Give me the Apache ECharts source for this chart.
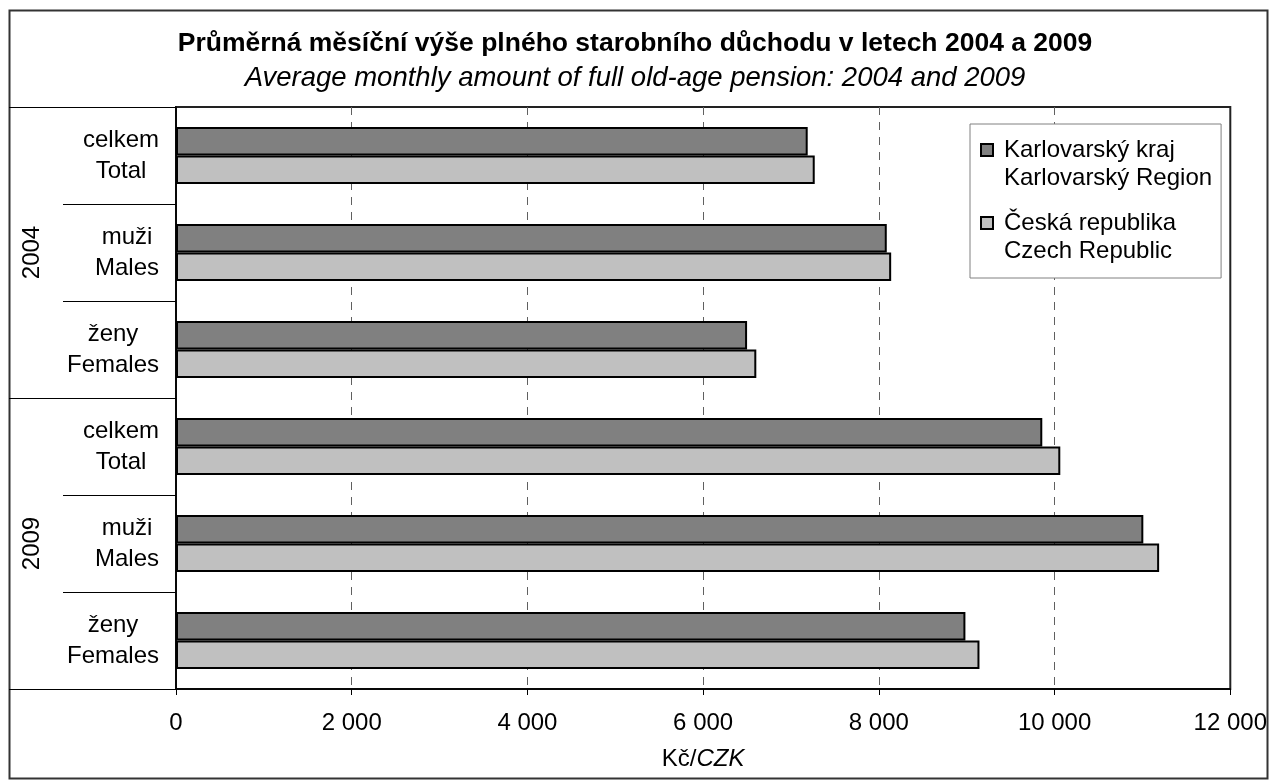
<!DOCTYPE html>
<html>
<head>
<meta charset="utf-8">
<script src="https://cdn.jsdelivr.net/npm/echarts@6/dist/echarts.min.js"></script>
<style>
  html, body { margin: 0; padding: 0; background: #fff; }
  #chart { width: 1270px; height: 780px; }
</style>
</head>
<body>
<div id="chart"></div>
<script>
// data (Kč / CZK)
const years = ['2004', '2009']
const groupsCs = ['celkem', 'muži', 'ženy']
const groupsEn = ['Total', 'Males', 'Females']
const karlovarsky = [7190, 8090, 6500, 9860, 11010, 8985]
const ceskaRepublika = [7270, 8140, 6605, 10065, 11190, 9145]
const xTicks = { min: 0, max: 12000, interval: 2000 }

const categories = []
years.forEach(y => {
  groupsCs.forEach((g, i) => {
    categories.push(y + '|' + g + '|' + groupsEn[i])
  })
})

const font = 'Liberation Sans, Arial, sans-serif'
const chart = echarts.init(document.getElementById('chart'))

chart.setOption({
  animation: false,
  backgroundColor: '#fff',
  textStyle: { fontFamily: font, color: '#000' },
  title: {
    text: 'Průměrná měsíční výše plného starobního důchodu v letech 2004 a 2009',
    subtext: 'Average monthly amount of full old-age pension: 2004 and 2009',
    left: 'center',
    top: 25,
    itemGap: 8,
    textStyle: { fontFamily: font, fontSize: 26.5, fontWeight: 'bold', color: '#000' },
    subtextStyle: { fontFamily: font, fontSize: 27.5, fontStyle: 'italic', color: '#000' }
  },
  graphic: [{
    type: 'rect',
    shape: { x: 9.5, y: 10.5, width: 1258, height: 768 },
    style: { fill: null, stroke: '#333', lineWidth: 2 },
    silent: true
  }],
  legend: {
    orient: 'vertical',
    left: 970,
    top: 124,
    padding: [11, 9, 12, 10],
    itemGap: 15,
    itemWidth: 18,
    itemHeight: 56,
    icon: 'path://M0,0M0,8h12v12h-12zM18,56',
    backgroundColor: '#fff',
    borderColor: '#808080',
    borderWidth: 1,
    textStyle: { fontFamily: font, fontSize: 24, lineHeight: 28, color: '#000' },
    data: ['Karlovarský kraj\nKarlovarský Region', 'Česká republika\nCzech Republic']
  },
  grid: {
    left: 176,
    top: 107,
    right: 39,
    bottom: 91,
    show: true,
    borderColor: '#222',
    borderWidth: 2
  },
  xAxis: {
    type: 'value',
    min: xTicks.min,
    max: xTicks.max,
    interval: xTicks.interval,
    name: 'Kč/{i|CZK}',
    nameLocation: 'middle',
    nameGap: 58,
    nameTextStyle: {
      fontFamily: font, fontSize: 24, color: '#000',
      rich: { i: { fontFamily: font, fontSize: 24, fontStyle: 'italic', color: '#000' } }
    },
    axisLine: { show: true, lineStyle: { color: '#000', width: 1.5 } },
    axisTick: { show: true, length: 6, lineStyle: { color: '#000' } },
    axisLabel: {
      fontFamily: font,
      fontSize: 24,
      color: '#000',
      margin: 22,
      formatter: v => String(v).replace(/\B(?=(\d{3})+(?!\d))/g, ' ')
    },
    splitLine: {
      show: true,
      showMinLine: false,
      showMaxLine: false,
      lineStyle: { color: '#606060', type: [8, 7], width: 1 }
    }
  },
  yAxis: [{
    type: 'category',
    inverse: true,
    data: categories,
    axisLine: { show: true, lineStyle: { color: '#000', width: 1.5 } },
    axisTick: { show: true, length: 113, interval: 0, lineStyle: { color: '#000' } },
    axisLabel: {
      interval: 0,
      margin: 17,
      formatter: v => {
        const p = v.split('|')
        return '{c|' + p[1] + '}\n{c|' + p[2] + '}'
      },
      rich: { c: { align: 'center', fontFamily: font, fontSize: 24, lineHeight: 31, color: '#000' } }
    }
  }, {
    type: 'category',
    inverse: true,
    position: 'left',
    data: years,
    axisLine: { show: false },
    axisTick: { show: true, length: 167, lineStyle: { color: '#000' } },
    axisLabel: {
      rotate: 90,
      margin: 132,
      fontFamily: font,
      fontSize: 24,
      color: '#000'
    }
  }],
  series: [{
    name: 'Karlovarský kraj\nKarlovarský Region',
    type: 'bar',
    yAxisIndex: 0,
    barGap: '0%',
    barCategoryGap: '41%',
    itemStyle: { color: '#808080', borderColor: '#000', borderWidth: 2 },
    data: karlovarsky
  }, {
    name: 'Česká republika\nCzech Republic',
    type: 'bar',
    yAxisIndex: 0,
    barGap: '0%',
    barCategoryGap: '41%',
    itemStyle: { color: '#c0c0c0', borderColor: '#000', borderWidth: 2 },
    data: ceskaRepublika
  }]
})
</script>
</body>
</html>
